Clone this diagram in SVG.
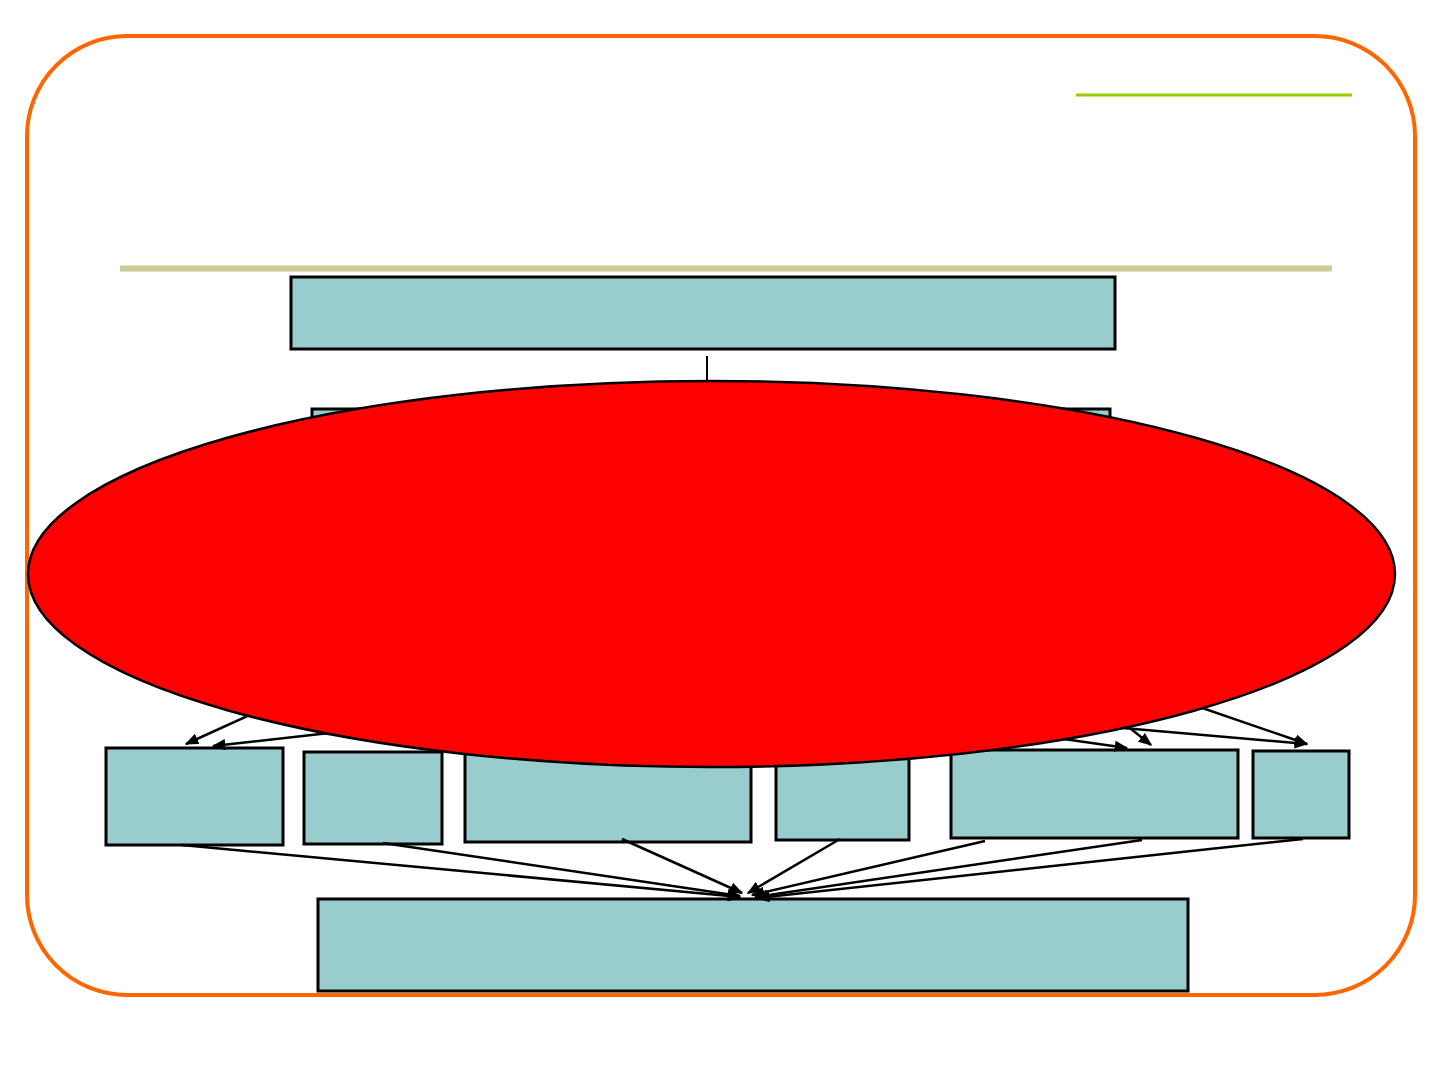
<svg xmlns="http://www.w3.org/2000/svg" width="1440" height="1080" viewBox="0 0 1440 1080">
<defs>
<style>
.box{fill:#99CCCC;stroke:#000;stroke-width:3}
.con{stroke:#000;stroke-width:2.5;fill:none;marker-end:url(#ah)}
</style>
<marker id="ah" viewBox="0 0 10 10" refX="9" refY="5" markerWidth="5.5" markerHeight="4.5" orient="auto" markerUnits="strokeWidth" preserveAspectRatio="none">
<path d="M0,0 L10,5 L0,10 Z" fill="#000"/>
</marker>
</defs>
<rect x="0" y="0" width="1440" height="1080" fill="#fff"/>
<rect x="27" y="36" width="1388" height="959" rx="100" ry="100" fill="none" stroke="#FF6600" stroke-width="4"/>
<line x1="1076" y1="95" x2="1352" y2="95" stroke="#99CC00" stroke-width="3"/>
<line x1="120" y1="268.5" x2="1332" y2="268.5" stroke="#CCCC99" stroke-width="6"/>
<g id="top"><rect class="box" x="291" y="277" width="824" height="72"/></g>
<g id="second"><rect class="box" x="312" y="409" width="798" height="80"/></g>
<g id="b1"><rect class="box" x="106" y="748" width="177" height="97"/></g>
<g id="b2"><rect class="box" x="304" y="752" width="138" height="92"/></g>
<g id="b3"><rect class="box" x="465" y="752" width="286" height="90"/></g>
<g id="b4"><rect class="box" x="776" y="752" width="133" height="88"/></g>
<g id="b5"><rect class="box" x="951" y="750" width="287" height="88"/></g>
<g id="b6"><rect class="box" x="1253" y="751" width="96" height="87"/></g>
<g id="final"><rect class="box" x="318" y="899" width="870" height="92"/></g>
<g id="connectors">
<line x1="707" y1="356" x2="707" y2="400" stroke="#000" stroke-width="2"/>
<line class="con" x1="300" y1="692" x2="186" y2="744"/>
<line class="con" x1="400" y1="725" x2="213" y2="746"/>
<line class="con" x1="1000" y1="730" x2="1127" y2="748"/>
<line class="con" x1="1110" y1="712" x2="1151" y2="745"/>
<line class="con" x1="1100" y1="726" x2="1307" y2="744"/>
<line class="con" x1="1150" y1="690" x2="1307" y2="744"/>
<line class="con" x1="182" y1="845" x2="740" y2="897"/>
<line class="con" x1="383" y1="843" x2="740" y2="896"/>
<line class="con" x1="622" y1="839" x2="742" y2="893"/>
<line class="con" x1="840" y1="839" x2="748" y2="893"/>
<line class="con" x1="985" y1="841" x2="752" y2="895"/>
<line class="con" x1="1142" y1="840" x2="755" y2="897"/>
<line class="con" x1="1303" y1="839" x2="757" y2="898"/>
</g>
<g id="ellipse"><ellipse cx="711.5" cy="574" rx="683.5" ry="193" fill="#FF0000" stroke="#000" stroke-width="2.5"/></g>
</svg>
